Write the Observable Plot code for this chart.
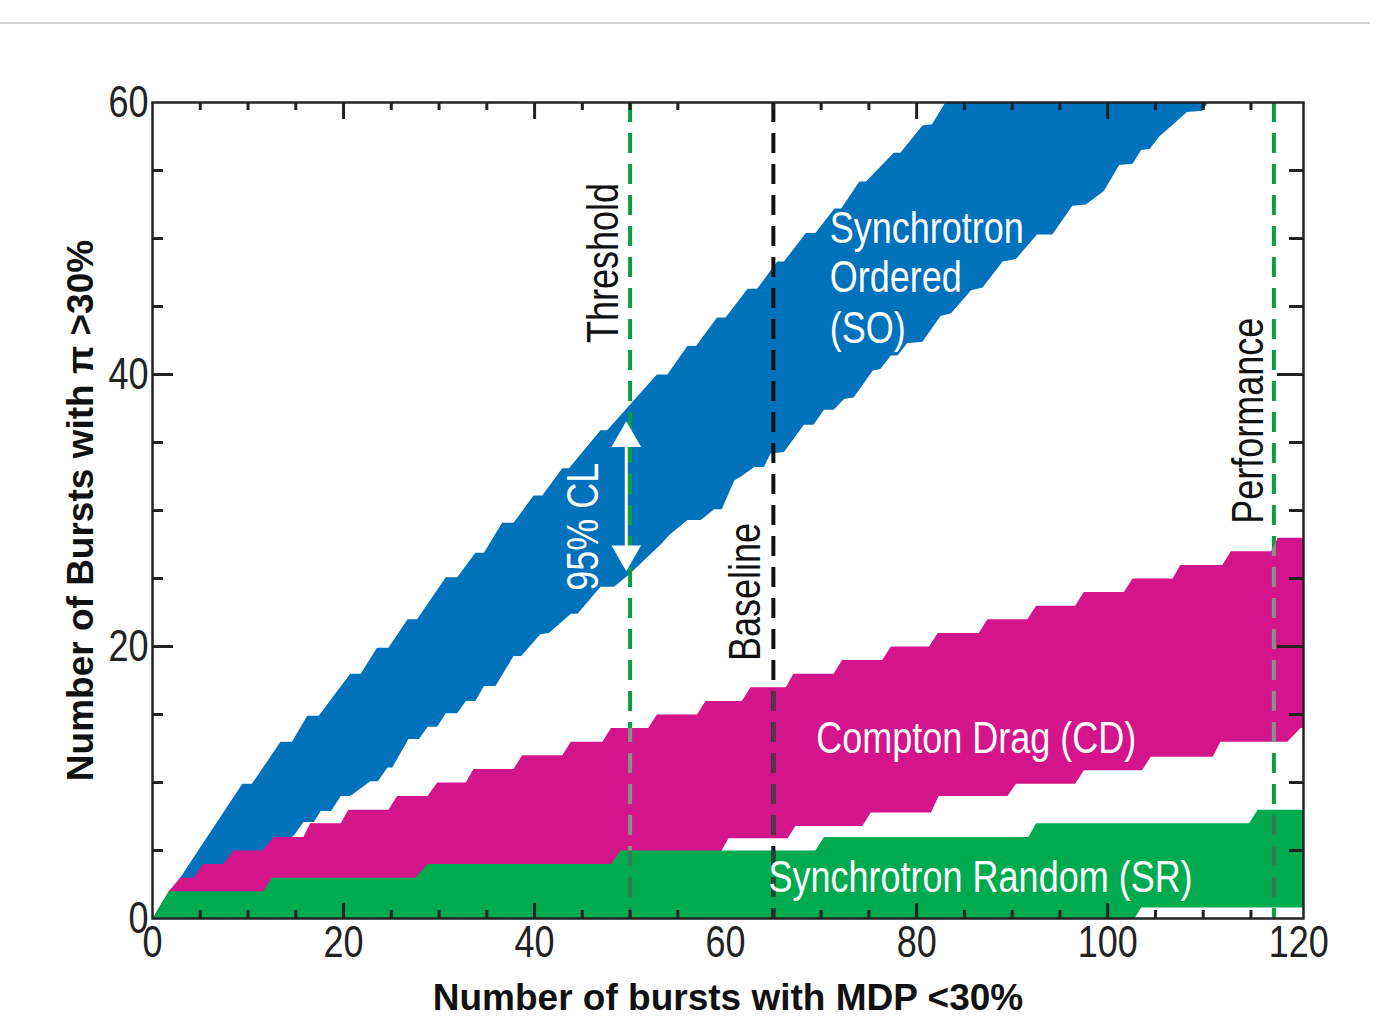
<!DOCTYPE html>
<html><head><meta charset="utf-8">
<script src="https://cdn.jsdelivr.net/npm/d3@7"></script>
<script src="https://cdn.jsdelivr.net/npm/@observablehq/plot@0.6"></script>
<style>
html,body{margin:0;padding:0;background:#fff;}
#rule{position:absolute;top:22px;left:0;width:1370px;height:2px;background:#d0d0d0;z-index:2;}
#chart{position:absolute;top:0;left:0;z-index:1;}
</style></head><body>
<div id="rule"></div><div id="chart"></div>
<script>
// ---- data: [bursts with MDP<30%, bursts with pi>30%] ----
const soUpper = [[0,0],[2.9,3],[9.4,9.9],[10.4,9.9],[13.4,13],[14.6,13],[16.2,14.9],[17.4,14.9],[20.7,18],[21.8,18],[23.5,19.9],[24.7,19.9],[26.7,22],[27.7,22],[30.7,25.1],[31.9,25.1],[33.8,26.9],[34.7,26.9],[36.6,29.1],[37.8,29.1],[39.9,31.1],[40.8,31.1],[42.9,33.1],[43.6,33.1],[46.9,35.9],[47.6,35.9],[52.8,40],[53.9,40],[56,42.1],[56.9,42.1],[59.1,44.2],[60,44.2],[62.3,46.3],[63.3,46.3],[65.4,48.3],[66.1,48.3],[68.4,50.4],[69.4,50.4],[71.4,52.2],[72.1,52.2],[74,54.2],[74.7,54.2],[77.6,56.3],[78.3,56.3],[80.6,58.3],[81.6,58.4],[83,60],[110.5,60]];
const soLower = [[0,0],[14.8,6.1],[15.8,7.1],[16.9,7.1],[17.6,7.9],[18.7,7.9],[19.7,9],[20.7,9],[22.8,10.1],[23.6,10.1],[24.6,11.1],[25.1,11.1],[26.8,13.2],[27.9,13.2],[28.8,14.1],[29.8,14.1],[30.7,15.1],[31.9,15.1],[32.8,16],[33.8,16],[34.7,17.1],[35.9,17.1],[37.8,19.3],[38.6,19.3],[40.6,20.9],[41.5,21],[43.8,22.4],[44.5,22.4],[46.9,24.4],[48.3,24.4],[49.9,25.3],[51.1,26.1],[53.2,27.5],[54.1,28.2],[56,29.3],[57.4,29.3],[58.8,30.1],[59.6,30.1],[60.9,32.2],[61.6,32.5],[63,33.2],[64,33.2],[64.7,34.2],[66.1,34.3],[68.2,36.3],[69.2,36.3],[70.3,37.4],[71.3,37.4],[72.4,38.2],[73.4,38.3],[75.4,40.3],[76.2,40.4],[77.3,41.4],[78,41.4],[79,42.3],[80.6,42.4],[82.5,44.3],[83.6,44.5],[85.7,46.2],[86.9,46.4],[89,48.3],[90.4,48.5],[92.6,50.3],[94.2,50.3],[96.3,52.4],[97.7,52.5],[99.6,53.5],[101.2,55.4],[102.6,55.5],[103.5,56.5],[104.4,56.6],[105.4,57.5],[108.3,59.3],[109.9,59.4],[110.5,60]];
const cdUpper = [[0,0],[1.7,2],[2.9,3],[4.3,3],[5.3,4],[7.4,4],[8.5,5],[11.5,5],[12.7,6],[15.8,6],[16.5,7],[19.7,7],[20.5,8],[24.7,8],[25.6,9],[28.8,9],[29.8,10],[32.8,10],[33.6,11],[37.8,11],[38.7,12],[42.9,12],[43.8,13],[47.1,13],[48,14],[51.9,14],[52.8,15],[57,15],[57.9,16],[61.7,16],[62.6,17],[66.3,17],[67.1,18],[71.3,18],[72.2,19],[76.4,19],[77.3,20],[81.3,20],[82.2,21],[86.5,21],[87.4,22],[91.6,22],[92.5,23],[96.6,23],[97.5,24],[101.7,24],[102.6,25],[106.8,25],[107.6,26],[112,26],[112.9,27],[117.1,27],[117.8,28],[120.5,28]];
const cdLower = [[0,0],[47,3.5],[59.5,4.9],[60.3,5.9],[66.5,5.9],[67.3,6.8],[74.3,6.8],[75.2,7.8],[81.5,7.8],[82.3,9],[89.5,9],[90.4,9.9],[96.6,9.9],[97.5,10.9],[103.6,10.9],[104.5,11.9],[111,11.9],[111.8,13],[118.8,13],[120.2,14],[120.5,14]];
const srUpper = [[0,0],[1.7,2],[11.6,2],[12.5,3],[27.5,3],[28.8,4],[48,4],[49,5],[69.4,5],[70.3,6],[91.7,6],[92.5,7],[114.8,7],[115.7,8],[120.5,8]];
const srLower = [[0,0],[102.8,0],[103.5,0.8],[120.5,0.8]];

const xMajorTicks = [0, 20, 40, 60, 80, 100, 120];
const xMinorTicks = [5,10,15,25,30,35,45,50,55,65,70,75,85,90,95,105,110,115];
const yMajorTicks = [0, 20, 40, 60];
const yMinorTicks = [5,10,15,25,30,35,45,50,55];

const guideNames = ["Threshold", "Baseline", "Performance"];
const guideValues = [50, 65, 117.4];

const labelTexts = ["Threshold","95% CL","Baseline","Performance","Synchrotron","Ordered","(SO)","Compton Drag (CD)","Synchrotron Random (SR)"];
const labelX = [47.2, 45.1, 62.1, 114.8, 70.9, 70.9, 70.9, 69.5, 64.5];
const labelY = [48.2, 28.8, 24.0, 36.6, 50.7, 47.1, 43.4, 13.2, 3.0];

const clArrow = {x: 49.6, lo: 26.8, hi: 35.3};

const xTitle = "Number of bursts with MDP <30%";
const yTitle = "Number of Bursts with \u03C0 >30%";

// ---- drawing ----
const SANS = '"Liberation Sans", Arial, sans-serif';
const SX = 0.8; // horizontal condensing to imitate a narrow face
const W = 1391, H = 1031, mT = 102, mB = 113, mL = 152, mR = 88;
const iw = W - mL - mR, ih = H - mT - mB;
const BLUE = "#0071bb", MAGENTA = "#d3148a", GREEN = "#00ab4f", DASHGREEN = "#0c9d47";
const guideColors = [DASHGREEN, "#111", DASHGREEN];

const poly = (up, lo) => [...up, ...lo.slice().reverse()].map(([x, y]) => ({x, y}));

const labels = labelTexts.map((t, i) => ({t, x: labelX[i], y: labelY[i], rotated: i < 4, white: [1,4,5,6,7,8].includes(i)}));

const tickStyle = {stroke: "#222", strokeWidth: 3};
const inner = a => a.filter(v => v !== 0 && v !== 60 && v !== 120);
const dash = {strokeWidth: 4, strokeDasharray: "20,11"};

const chart = Plot.plot({
  width: W, height: H,
  marginTop: mT, marginBottom: mB, marginLeft: mL, marginRight: mR,
  style: {fontFamily: SANS, fontSize: "45px", color: "#222", background: "white"},
  x: {domain: [0, 120.5], ticks: xMajorTicks, tickSize: 0, tickPadding: 7, label: null},
  y: {domain: [0, 60], ticks: yMajorTicks, tickSize: 0, tickPadding: 4, label: null},
  marks: [
    Plot.line(poly(soUpper, soLower), {x: "x", y: "y", fill: BLUE, stroke: "none", clip: true}),
    Plot.line(poly(cdUpper, cdLower), {x: "x", y: "y", fill: MAGENTA, stroke: "none", clip: true}),
    Plot.line(poly(srUpper, srLower), {x: "x", y: "y", fill: GREEN, stroke: "none", clip: true}),
    ...guideValues.map((v, i) => Plot.ruleX([v], {stroke: guideColors[i], ...dash})),
    // 95% CL double arrow
    Plot.link([clArrow], {x1: "x", x2: "x", y1: "lo", y2: "hi", stroke: "white", strokeWidth: 3}),
    Plot.dot([clArrow], {x: "x", y: "hi", symbol: "triangle", r: 11, fill: "white", stroke: "none"}),
    Plot.dot([clArrow], {x: "x", y: "lo", symbol: "triangle", r: 11, fill: "white", stroke: "none", rotate: 180}),
    // labels
    Plot.text(labels.filter(d => d.rotated), {x: "x", y: "y", text: "t", rotate: -90, fill: d => d.white ? "white" : "#111", fontSize: 45}),
    Plot.text(labels.filter(d => !d.rotated), {x: "x", y: "y", text: "t", textAnchor: "start", fill: "white", fontSize: 45}),
    // frame and inward ticks
    Plot.frame({stroke: "#222", strokeWidth: 2.5}),
    Plot.tickX(xMinorTicks, {...tickStyle, insetTop: ih - 8}),
    Plot.tickX(inner(xMajorTicks), {...tickStyle, insetTop: ih - 15}),
    Plot.tickX(xMinorTicks, {...tickStyle, insetBottom: ih - 8}),
    Plot.tickX(inner(xMajorTicks), {...tickStyle, insetBottom: ih - 17}),
    Plot.tickY(yMinorTicks, {...tickStyle, insetRight: iw - 11}),
    Plot.tickY(inner(yMajorTicks), {...tickStyle, insetRight: iw - 21}),
    Plot.tickY(yMinorTicks, {...tickStyle, insetLeft: iw - 14}),
    Plot.tickY(inner(yMajorTicks), {...tickStyle, insetLeft: iw - 26}),
    // axis titles
    Plot.text([xTitle], {text: d => d, frameAnchor: "bottom", lineAnchor: "middle", textAnchor: "middle", dy: 80, fontSize: 37, fontWeight: "bold", fill: "#111"}),
    Plot.text([yTitle], {text: d => d, frameAnchor: "left", lineAnchor: "middle", textAnchor: "middle", dx: -71, rotate: -90, fontSize: 37, fontWeight: "bold", fill: "#111"})
  ]
});

// condense every text except the two bold axis titles (narrow face look)
chart.querySelectorAll("text").forEach(t => {
  const s = t.textContent;
  if (s === xTitle || s === yTitle) return;
  let base = t.getAttribute("transform") || "";
  const x = t.getAttribute("x");
  if (x != null && /^-?[\d.]+$/.test(x)) { base += ` translate(${x},0)`; t.setAttribute("x", 0); }
  t.setAttribute("transform", `${base} scale(${SX},1)`);
});

// guide dashes look greyed where they cross the Compton-drag and random bands
(function greyOverlaps() {
  const NS = "http://www.w3.org/2000/svg";
  const bandPaths = chart.querySelectorAll('g[aria-label="line"] path');
  const rules = [...chart.querySelectorAll('g[aria-label="rule"]')];
  if (bandPaths.length < 3 || rules.length < 3) return;
  let defs = chart.querySelector("defs");
  if (!defs) { defs = document.createElementNS(NS, "defs"); chart.insertBefore(defs, chart.firstChild); }
  const overlays = [
    {band: bandPaths[1], colors: ["#8e8e8e", "#4a3d45", "#8e8e8e"]},
    {band: bandPaths[2], colors: ["#2f7d50", "#2c4535", "#2f7d50"]}
  ];
  let anchor = rules[rules.length - 1];
  overlays.forEach((o, k) => {
    const cp = document.createElementNS(NS, "clipPath");
    cp.setAttribute("id", "bandclip" + k);
    const p = document.createElementNS(NS, "path");
    p.setAttribute("d", o.band.getAttribute("d"));
    const tr = o.band.parentNode.getAttribute("transform");
    if (tr) p.setAttribute("transform", tr);
    cp.appendChild(p);
    defs.appendChild(cp);
    const wrap = document.createElementNS(NS, "g");
    wrap.setAttribute("clip-path", `url(#bandclip${k})`);
    rules.forEach((r, i) => {
      const c = r.cloneNode(true);
      c.setAttribute("stroke", o.colors[i]);
      c.querySelectorAll("line").forEach(l => { if (l.hasAttribute("stroke")) l.setAttribute("stroke", o.colors[i]); });
      wrap.appendChild(c);
    });
    anchor.after(wrap);
    anchor = wrap;
  });
})();
document.getElementById("chart").appendChild(chart);
</script></body></html>
